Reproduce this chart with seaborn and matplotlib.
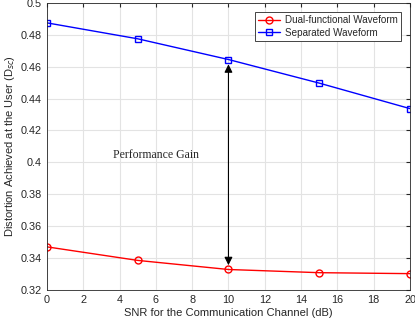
import numpy as np
import pandas as pd
import seaborn as sns
import matplotlib.pyplot as plt
from matplotlib.lines import Line2D

# data
snr = [0, 5, 10, 15, 20]
dual = [0.3470, 0.3385, 0.3328, 0.3308, 0.3302]
separated = [0.4875, 0.4775, 0.4645, 0.4497, 0.4337]
series_names = ['Dual-functional Waveform', 'Separated Waveform']
colors = ['#ff0000', '#0000ff']
marks = ['o', 's']

df = pd.DataFrame({'snr': snr * 2,
                   'dist': dual + separated,
                   'scheme': [series_names[0]] * 5 + [series_names[1]] * 5})

sns.set_style("whitegrid", {'grid.color': '#e3e3e3', 'axes.edgecolor': '#262626'})
plt.rcParams['font.family'] = ['Liberation Sans', 'DejaVu Sans']

fig, ax = plt.subplots(figsize=(4.15, 3.25), dpi=100)
fig.subplots_adjust(left=0.113, right=0.988, top=0.991, bottom=0.108)

sns.lineplot(data=df, x='snr', y='dist', hue='scheme', style='scheme',
             palette=colors, markers=marks, dashes=False,
             markerfacecolor='none', markersize=5, markeredgewidth=1.0,
             linewidth=1.0, ax=ax, legend=False)
for line, c in zip(ax.lines, colors):
    line.set_markeredgecolor(c)

ax.set_xlim(0, 20)
ax.set_ylim(0.32, 0.5)
ax.set_xticks(np.arange(0, 21, 2))
ax.set_yticks(np.arange(0.32, 0.501, 0.02))
ax.set_yticklabels(['0.32', '0.34', '0.36', '0.38', '0.4', '0.42', '0.44', '0.46', '0.48', '0.5'])
ax.tick_params(direction='in', length=3, labelsize=7.8, colors='#262626', top=True, right=True)
for s in ax.spines.values():
    s.set_linewidth(0.6)

ax.set_xlabel('SNR for the Communication Channel (dB)', fontsize=8, color='#262626', labelpad=2)
ax.set_ylabel('Distortion Achieved at the User (D$_{sc}$)', fontsize=8, color='#262626', labelpad=3)

ax.annotate('', xy=(10, 0.4615), xytext=(10, 0.3355),
            arrowprops=dict(arrowstyle='<|-|>', color='black', lw=0.8,
                            mutation_scale=12, shrinkA=0, shrinkB=0))
ax.text(6.0, 0.4045, 'Performance Gain', fontsize=8.5, family='Liberation Serif',
        ha='center', va='center')

handles = [Line2D([], [], color=c, marker=m, markerfacecolor='none', markeredgecolor=c,
                  markersize=5, markeredgewidth=1.0, linewidth=1.0)
           for c, m in zip(colors, marks)]
leg = ax.legend(handles, series_names, loc='upper right', fontsize=7.1, frameon=True,
                fancybox=False, borderpad=0.35, labelspacing=0.25, handlelength=2.2,
                handletextpad=0.5, borderaxespad=0.9, framealpha=1)
leg.get_frame().set_edgecolor('#262626')
leg.get_frame().set_linewidth(0.6)

fig.savefig('out.png', dpi=100)
